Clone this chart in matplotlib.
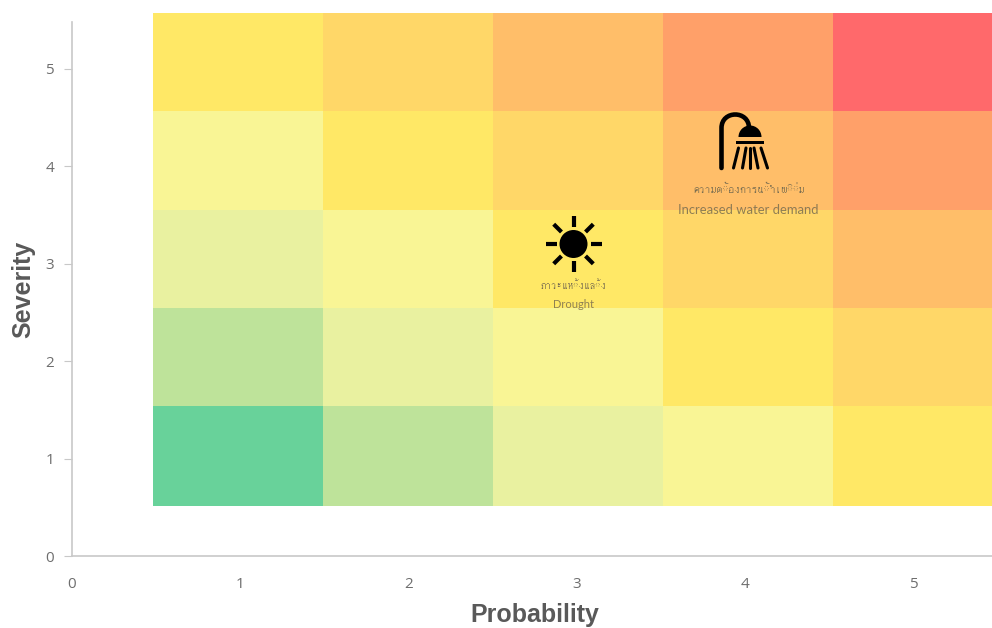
import matplotlib
matplotlib.use("Agg")
import matplotlib.pyplot as plt
import matplotlib.font_manager as fm
import numpy as np
from matplotlib.patches import Circle, Rectangle, Wedge, PathPatch
from matplotlib.path import Path

# Risk matrix: grid is a pasted picture in the original, so the edges do not
# line up exactly with the tick positions
x_edges = [0.481, 1.491, 2.501, 3.511, 4.521, 5.466]
y_edges = [0.513, 1.54, 2.546, 3.552, 4.569, 5.575]
x_ticks = [0, 1, 2, 3, 4, 5]
y_ticks = [0, 1, 2, 3, 4, 5]
# bottom row first
cell_colors = [
    ["#68D29A", "#BEE39A", "#E9F1A0", "#F9F595", "#FFE866"],
    ["#BEE39A", "#E9F1A0", "#F9F595", "#FFE866", "#FFD768"],
    ["#E9F1A0", "#F9F595", "#FFE866", "#FFD768", "#FFBE69"],
    ["#F9F595", "#FFE866", "#FFD768", "#FFBE69", "#FFA069"],
    ["#FFE866", "#FFD768", "#FFBE69", "#FFA069", "#FF696B"],
]
thai_labels = ["ภาวะแห้งแล้ง", "ความต้องการน้ำเพิ่ม"]
en_labels = ["Drought", "Increased water demand"]


def find_thai_font():
    for path in fm.findSystemFonts():
        try:
            if 0x0E04 in fm.get_font(path).get_charmap():
                return fm.FontProperties(fname=path).get_name()
        except Exception:
            pass
    return None


W, H = 992, 628
fig = plt.figure(figsize=(W / 100, H / 100), dpi=100)
ax = fig.add_axes([72 / W, (H - 556) / H, (W - 72) / W, (556 - 22) / H])
ax.set_xlim(0, (W - 72) / 168.3)
ax.set_ylim(0, (556 - 22) / 97.4)

for r, row in enumerate(cell_colors):
    for c, color in enumerate(row):
        ax.add_patch(Rectangle((x_edges[c], y_edges[r]),
                               x_edges[c + 1] - x_edges[c],
                               y_edges[r + 1] - y_edges[r],
                               facecolor=color, edgecolor="none",
                               clip_on=False, zorder=1))

for side in ["top", "right"]:
    ax.spines[side].set_visible(False)
for side in ["left", "bottom"]:
    ax.spines[side].set_color("#C8C8C8")
    ax.spines[side].set_linewidth(1.2)
ax.set_xticks(x_ticks)
ax.set_yticks(y_ticks)
ax.tick_params(axis="x", length=0, pad=15, labelsize=11, labelcolor="#6E6E6E")
ax.tick_params(axis="y", length=6, color="#C8C8C8", pad=7, labelsize=11, labelcolor="#6E6E6E")
for lab in ax.get_xticklabels() + ax.get_yticklabels():
    lab.set_family("Open Sans")

# overlay in pixel coordinates for the icons and the annotation text
ov = fig.add_axes([0, 0, 1, 1])
ov.set_xlim(0, W)
ov.set_ylim(H, 0)
ov.axis("off")
ov.patch.set_alpha(0)

ov.text(23, 289, "Severity", rotation=90, ha="center", va="center",
        family="Liberation Sans", weight="bold", fontsize=18, color="#595959")
ov.text(535, 615, "Probability", ha="center", va="center",
        family="Liberation Sans", weight="bold", fontsize=18, color="#595959")

# sun icon
sx, sy = 573.5, 244
ov.add_patch(Circle((sx, sy), 14, color="black", lw=0))
for a in np.deg2rad(np.arange(0, 360, 45)):
    ov.plot([sx + 17 * np.cos(a), sx + 28 * np.cos(a)],
            [sy + 17 * np.sin(a), sy + 28 * np.sin(a)],
            color="black", lw=3, solid_capstyle="butt")

# shower icon
pipe = Path([(721.5, 168), (721.5, 128), (721.5, 110), (749, 110), (749, 128)],
            [Path.MOVETO, Path.LINETO, Path.CURVE4, Path.CURVE4, Path.CURVE4])
ov.add_patch(PathPatch(pipe, facecolor="none", edgecolor="black", lw=3.3, capstyle="round"))
ov.add_patch(Wedge((750, 137), 11.5, 180, 360, color="black", lw=0))
ov.add_patch(Rectangle((735.5, 140.5), 28.5, 3.8, color="black", lw=0))
for x0, x1 in [(738.5, 733.5), (746, 742.5), (750, 750), (754, 758), (761, 767.5)]:
    ov.plot([x0, x1], [148, 168], color="black", lw=2.2, solid_capstyle="round")

thai_font = find_thai_font()
text_color = "#7A6E50"
thai_kw = {"family": [thai_font, "DejaVu Sans"]} if thai_font else {"family": "DejaVu Sans"}
ov.text(573, 285, thai_labels[0], ha="center", va="center", fontsize=8, color=text_color, **thai_kw)
ov.text(749, 188, thai_labels[1], ha="center", va="center", fontsize=8.5, color=text_color, **thai_kw)
ov.text(573, 304, en_labels[0], ha="center", va="center", fontsize=8, color=text_color, family="Lato", alpha=0.85)
ov.text(748, 210, en_labels[1], ha="center", va="center", fontsize=9.4, color=text_color, family="Lato", alpha=0.85)

fig.savefig("out.png", dpi=100)
